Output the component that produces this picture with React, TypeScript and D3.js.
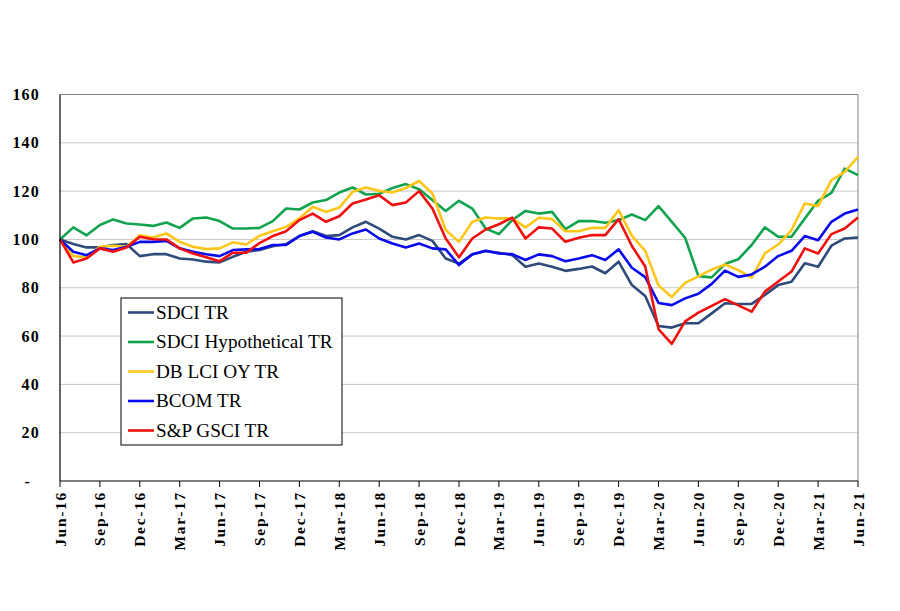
import React from "react";
import * as d3 from "d3";

const tickLabels = [
  "Jun-16", "Sep-16", "Dec-16", "Mar-17", "Jun-17", "Sep-17", "Dec-17",
  "Mar-18", "Jun-18", "Sep-18", "Dec-18", "Mar-19", "Jun-19", "Sep-19",
  "Dec-19", "Mar-20", "Jun-20", "Sep-20", "Dec-20", "Mar-21", "Jun-21",
];

const yTicks = [0, 20, 40, 60, 80, 100, 120, 140, 160];

const sdciTR = [
  100, 98.1, 96.7, 96.7, 97.7, 98.1, 93.1, 93.9, 93.9, 92.1, 91.7, 90.8, 90.5,
  92.8, 94.9, 95.6, 97.2, 98.1, 101.4, 103.4, 101.4, 101.8, 105, 107.3, 104.5,
  101.1, 100, 101.8, 99.4, 92.1, 90, 93.8, 95.2, 94.5, 93.5, 88.7, 90, 88.7,
  87, 87.8, 88.8, 86, 90.8, 81.1, 76.6, 64.2, 63.5, 65.3, 65.3, 69.4, 73.6,
  73.3, 73.3, 77, 81.1, 82.5, 90.1, 88.7, 97.4, 100.4, 100.8,
];

const sdciHypTR = [
  100, 105, 101.7, 106, 108.3, 106.6, 106.2, 105.6, 107, 104.8, 108.7, 109.1,
  107.6, 104.5, 104.5, 104.8, 107.6, 112.8, 112.4, 115.3, 116.3, 119.4, 121.5,
  118.6, 118.9, 121.3, 122.9, 120.8, 116.3, 111.8, 116, 112.8, 104.5, 102.2,
  108, 111.8, 110.7, 111.4, 104.3, 107.6, 107.6, 106.9, 108, 110.3, 108, 113.8,
  107.3, 100.7, 84.8, 84.3, 89.8, 91.8, 97.7, 105, 101.1, 101.1, 108.7, 116,
  119.3, 129.3, 126.6,
];

const dbLciTR = [
  100, 93.1, 92.6, 97, 97.4, 97, 101.7, 100.8, 102.5, 99, 97, 96, 96.3, 98.8,
  97.9, 101.5, 103.4, 105.2, 108.7, 113.5, 111.4, 113.2, 119.7, 121.5, 120.1,
  119.4, 121.3, 124.2, 119, 103.9, 99, 107.3, 109.1, 108.7, 108.7, 105, 109,
  108.4, 103.4, 103.4, 104.8, 104.8, 112.1, 101.5, 95.3, 80.9, 76.2, 82, 84.7,
  87.5, 89.6, 87.3, 84.2, 94.2, 97.9, 103.9, 114.9, 113.8, 124.5, 128, 134.2,
];

const bcomTR = [
  100, 94.9, 93.5, 96.3, 95.6, 97, 99, 99, 99.4, 96.3, 94.9, 93.9, 93.1, 95.6,
  95.9, 96, 97.7, 97.7, 101.4, 103.2, 100.8, 100, 102.5, 104.1, 100.4, 98.3,
  96.7, 98.3, 96.3, 95.9, 89.4, 93.9, 95.3, 94.2, 93.9, 91.5, 93.8, 93.1, 91,
  92.1, 93.5, 91.5, 95.9, 88.3, 84.4, 73.7, 72.8, 75.6, 77.5, 81.6, 87.1, 84.5,
  85.5, 88.7, 93.1, 95.3, 101.4, 99.7, 107.3, 110.7, 112.4,
];

const gsciTR = [
  100, 90.5, 92.1, 96.3, 94.9, 96.7, 101.1, 100.1, 100, 96.3, 94.2, 92.6, 91,
  94.5, 94.5, 98.5, 101.4, 103.4, 108, 110.7, 107.3, 109.6, 114.9, 116.5,
  118.3, 114.2, 115.3, 120, 112.8, 100.4, 92.6, 100.4, 104.1, 106.3, 109,
  100.4, 105, 104.5, 99, 100.7, 101.8, 101.8, 108.4, 97.3, 88.8, 62.9, 56.8,
  66.1, 69.7, 72.5, 75.3, 72.7, 70.1, 78.4, 82.6, 86.7, 96.3, 94.2, 102.2,
  104.5, 109.1,
];

const seriesNames = [
  "SDCI TR",
  "SDCI Hypothetical TR",
  "DB LCI OY TR",
  "BCOM TR",
  "S&P GSCI TR",
];
const seriesValues = [sdciTR, sdciHypTR, dbLciTR, bcomTR, gsciTR];
const seriesColors = ["#2F4B7C", "#11A34E", "#FFC61A", "#0A0AEE", "#F01010"];

const W = 900;
const H = 611;
const left = 60;
const right = 858;
const top = 94.5;
const bottom = 481;
const font = "'Liberation Serif', 'Times New Roman', serif";

export default function App() {
  const n = sdciTR.length;
  const x = d3.scaleLinear().domain([0, n - 1]).range([left, right]);
  const y = d3.scaleLinear().domain([0, 160]).range([bottom, top]);
  const line = d3
    .line<number>()
    .x((_, i) => x(i))
    .y((d) => y(d));

  const legendX = 121;
  const legendY = 298;
  const legendW = 221;
  const legendH = 147;

  return (
    <svg
      width={W}
      height={H}
      style={{ position: "absolute", left: 0, top: 0, background: "#fff" }}
    >
      <rect x={0} y={0} width={W} height={H} fill="#fff" />
      {yTicks.slice(1).map((t) => (
        <line
          key={"g" + t}
          x1={left}
          x2={right}
          y1={y(t)}
          y2={y(t)}
          stroke={t === 160 ? "#808080" : "#C8C8C8"}
          strokeWidth={1}
        />
      ))}
      <line x1={right} x2={right} y1={top} y2={bottom} stroke="#808080" strokeWidth={1} />
      {yTicks.map((t) => (
        <text
          key={"yl" + t}
          x={t === 0 ? 31 : 40}
          y={y(t)}
          dy="0.35em"
          textAnchor="end"
          fontFamily={font}
          fontWeight="bold"
          fontSize={16}
          letterSpacing={1.2}
          fill="#000"
        >
          {t === 0 ? "-" : String(t)}
        </text>
      ))}
      {seriesValues.map((vals, k) => (
        <path
          key={"s" + k}
          d={line(vals) || ""}
          fill="none"
          stroke={seriesColors[k]}
          strokeWidth={2.6}
          strokeLinejoin="round"
        />
      ))}
      <line x1={left} x2={left} y1={top} y2={bottom} stroke="#000" strokeWidth={1.2} />
      <line x1={left} x2={right} y1={bottom} y2={bottom} stroke="#000" strokeWidth={1.2} />
      {tickLabels.map((lab, j) => {
        const xi = x(j * 3);
        return (
          <g key={"xt" + j}>
            <line x1={xi} x2={xi} y1={bottom} y2={bottom + 6} stroke="#000" strokeWidth={1} />
            <text
              transform={`translate(${xi + 5.5},${bottom + 10}) rotate(-90)`}
              textAnchor="end"
              fontFamily={font}
              fontWeight="bold"
              fontSize={15.5}
              letterSpacing={1.7}
              fill="#000"
            >
              {lab}
            </text>
          </g>
        );
      })}
      <rect
        x={legendX}
        y={legendY}
        width={legendW}
        height={legendH}
        fill="#fff"
        stroke="#000"
        strokeWidth={1}
      />
      {seriesNames.map((name, k) => {
        const cy = legendY + 14.5 + k * 29.5;
        return (
          <g key={"lg" + k}>
            <line
              x1={legendX + 7}
              x2={legendX + 33}
              y1={cy}
              y2={cy}
              stroke={seriesColors[k]}
              strokeWidth={2.6}
            />
            <text
              x={legendX + 35}
              y={cy}
              dy="0.33em"
              fontFamily={font}
              fontSize={19.2}
              fill="#000"
            >
              {name}
            </text>
          </g>
        );
      })}
    </svg>
  );
}
